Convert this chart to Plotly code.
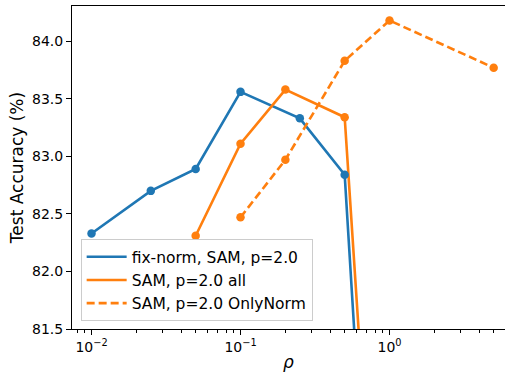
import plotly.graph_objects as go
import numpy as np

# Data
rho_fix = [0.01, 0.025, 0.05, 0.1, 0.25, 0.5, 1.0]
acc_fix = [82.33, 82.70, 82.89, 83.56, 83.33, 82.84, 76.5]

rho_all = [0.05, 0.1, 0.2, 0.5, 1.0]
acc_all = [82.31, 83.11, 83.58, 83.34, 77.4]

rho_norm = [0.1, 0.2, 0.5, 1.0, 5.0]
acc_norm = [82.47, 82.97, 83.83, 84.18, 83.77]

names = ["fix-norm, SAM, p=2.0", "SAM, p=2.0 all", "SAM, p=2.0 OnlyNorm"]
blue = "#1f77b4"
orange = "#ff7f0e"

xtick_vals = [0.01, 0.1, 1.0]
xtick_text = ["10<sup>−2</sup>", "10<sup>−1</sup>", "10<sup>0</sup>"]
xminor_vals = [m * d for d in [0.001, 0.01, 0.1, 1.0] for m in range(2, 10)]
ytick_vals = [81.5, 82.0, 82.5, 83.0, 83.5, 84.0]

XR = [-2.131, 0.775]

fig = go.Figure()
series = [
    (rho_fix, acc_fix, names[0], blue, "solid"),
    (rho_all, acc_all, names[1], orange, "solid"),
    (rho_norm, acc_norm, names[2], orange, "dash"),
]
for xs, ys, nm, col, dash in series:
    fig.add_trace(go.Scatter(x=xs, y=ys, mode="lines", name=nm,
                             line=dict(color=col, width=2.6, dash="solid" if dash == "solid" else "8px,4px")))
for xs, ys, nm, col, dash in series:
    fig.add_trace(go.Scatter(x=xs, y=ys, mode="markers", showlegend=False,
                             marker=dict(color=col, size=8.5), hoverinfo="skip"))
# invisible trace to activate minor-tick axis
fig.add_trace(go.Scatter(x=[0.01], y=[82], xaxis="x2", mode="markers",
                         marker=dict(opacity=0), showlegend=False, hoverinfo="skip"))

fig.update_layout(
    width=505, height=372,
    margin=dict(l=71.5, r=0, t=5.7, b=43),
    plot_bgcolor="white", paper_bgcolor="white",
    font=dict(family="DejaVu Sans", size=14, color="black"),
    showlegend=True,
    legend=dict(x=0.02, y=0.024, xanchor="left", yanchor="bottom",
                bgcolor="rgba(255,255,255,0.8)", bordercolor="#cccccc", borderwidth=1,
                font=dict(size=15.5), itemwidth=40, tracegroupgap=0),
    xaxis=dict(type="log", range=XR, automargin=False,
               tickvals=xtick_vals, ticktext=xtick_text,
               ticks="outside", ticklen=5, tickwidth=1, tickcolor="black",
               showline=True, linecolor="black", linewidth=1, mirror=True,
               showgrid=False, zeroline=False,
               title=dict(text="<i>ρ</i>", font=dict(size=17), standoff=4),
               tickfont=dict(size=14)),
    xaxis2=dict(type="log", range=XR, overlaying="x", side="bottom", automargin=False,
                tickvals=xminor_vals, ticktext=[""] * len(xminor_vals),
                ticks="outside", ticklen=3, tickwidth=0.8, tickcolor="black",
                showline=False, showgrid=False, zeroline=False, showticklabels=False),
    yaxis=dict(range=[81.5, 84.306], tickvals=ytick_vals, tickformat=".1f", automargin=False,
               ticks="outside", ticklen=5, tickwidth=1, tickcolor="black",
               showline=True, linecolor="black", linewidth=1, mirror=False,
               showgrid=False, zeroline=False,
               title=dict(text="Test Accuracy (%)", font=dict(size=17), standoff=4),
               tickfont=dict(size=14)),
)

fig.write_html("out.html", config={"displayModeBar": False},
               post_script="document.body.style.margin='0';document.body.style.overflow='hidden';")
